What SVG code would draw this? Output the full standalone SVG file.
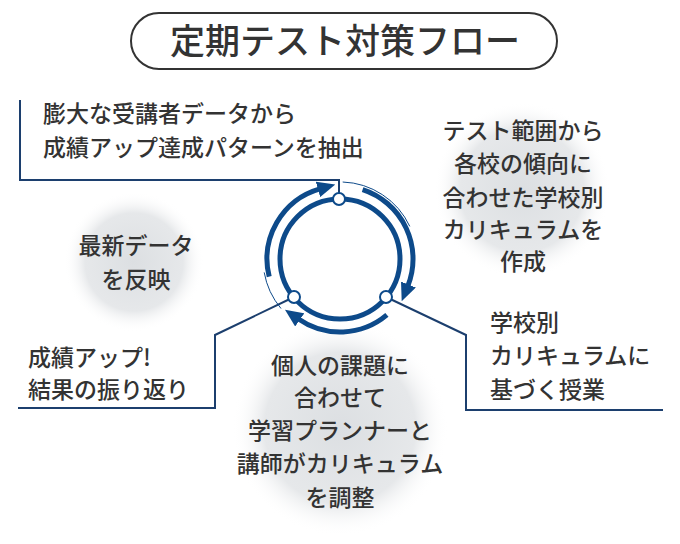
<svg xmlns="http://www.w3.org/2000/svg" width="680" height="544" viewBox="0 0 680 544">
<defs>
<radialGradient id="bub"><stop offset="0" stop-color="#dcdfe2"/><stop offset="0.7" stop-color="#e6e8ea"/><stop offset="1" stop-color="#ffffff" stop-opacity="0"/></radialGradient>
<marker id="ah" markerUnits="userSpaceOnUse" markerWidth="18" markerHeight="16" refX="2" refY="8" orient="auto"><path d="M0,0 L18,8 L0,16 Z" fill="#0d4a8a"/></marker>
<style>
text{font-family:"Noto Sans CJK JP","Noto Sans",sans-serif;fill:#333;font-size:23px;font-weight:500}
.c{text-anchor:middle}
.ln{fill:none;stroke:#1c3f6e;stroke-width:2}
.arc{fill:none;stroke:#0d4a8a;stroke-width:5}
.thin{fill:none;stroke:#0d4a8a;stroke-width:1}
.dot{fill:#fff;stroke:#0d4a8a;stroke-width:2}
</style>
</defs>
<rect width="680" height="544" fill="#fff"/>
<g id="title"><rect x="131" y="13" width="426" height="56" rx="28" fill="#fff" stroke="#333" stroke-width="2"/><text class="c" x="345" y="54" style="font-size:35px">定期テスト対策フロー</text></g>
<circle cx="522" cy="190" r="88" fill="url(#bub)"/>
<circle cx="134" cy="262" r="70" fill="url(#bub)"/>
<circle cx="340" cy="428" r="108" fill="url(#bub)"/>
<g id="connectors">
<polyline class="ln" points="20,100 20,180 339,180 339,199"/>
<polyline class="ln" points="294,297 215,335 215,408 18,408"/>
<polyline class="ln" points="386,297 466,335 466,410 663,410"/>
</g>
<g id="cycle">
<circle cx="340" cy="259" r="60" class="arc"/>
<path class="arc" d="M269.2,276.7 A73,73 0 0 1 319.9,188.8" marker-end="url(#ah)"/>
<path class="arc" d="M362.6,189.6 A73,73 0 0 1 407.7,286.4" marker-end="url(#ah)"/>
<path class="arc" d="M386.9,314.9 A73,73 0 0 1 298.1,318.8" marker-end="url(#ah)"/>
<path class="thin" d="M342.7,182 A77,77 0 0 1 409.8,226.4"/>
<path class="thin" d="M281,308.5 A77,77 0 0 1 264.2,272.4"/>
<circle class="dot" cx="339" cy="199" r="6"/>
<circle class="dot" cx="294" cy="297" r="6"/>
<circle class="dot" cx="386" cy="297" r="6"/>
</g>
<g id="n1"><text x="43" y="122">膨大な受講者データから</text><text x="43" y="156">成績アップ達成パターンを抽出</text></g>
<g id="n2"><text class="c" x="523" y="139">テスト範囲から</text><text class="c" x="523" y="172">各校の傾向に</text><text class="c" x="523" y="206">合わせた学校別</text><text class="c" x="523" y="238">カリキュラムを</text><text class="c" x="523" y="270">作成</text></g>
<g id="n3"><text x="490" y="331">学校別</text><text x="490" y="364">カリキュラムに</text><text x="490" y="398">基づく授業</text></g>
<g id="n4"><text class="c" x="340" y="374">個人の課題に</text><text class="c" x="340" y="406">合わせて</text><text class="c" x="340" y="439">学習プランナーと</text><text class="c" x="340" y="472">講師がカリキュラム</text><text class="c" x="340" y="506">を調整</text></g>
<g id="n5"><text x="28" y="366">成績アップ!</text><text x="28" y="398">結果の振り返り</text></g>
<g id="n6"><text class="c" x="136" y="254">最新データ</text><text class="c" x="136" y="288">を反映</text></g>
</svg>
